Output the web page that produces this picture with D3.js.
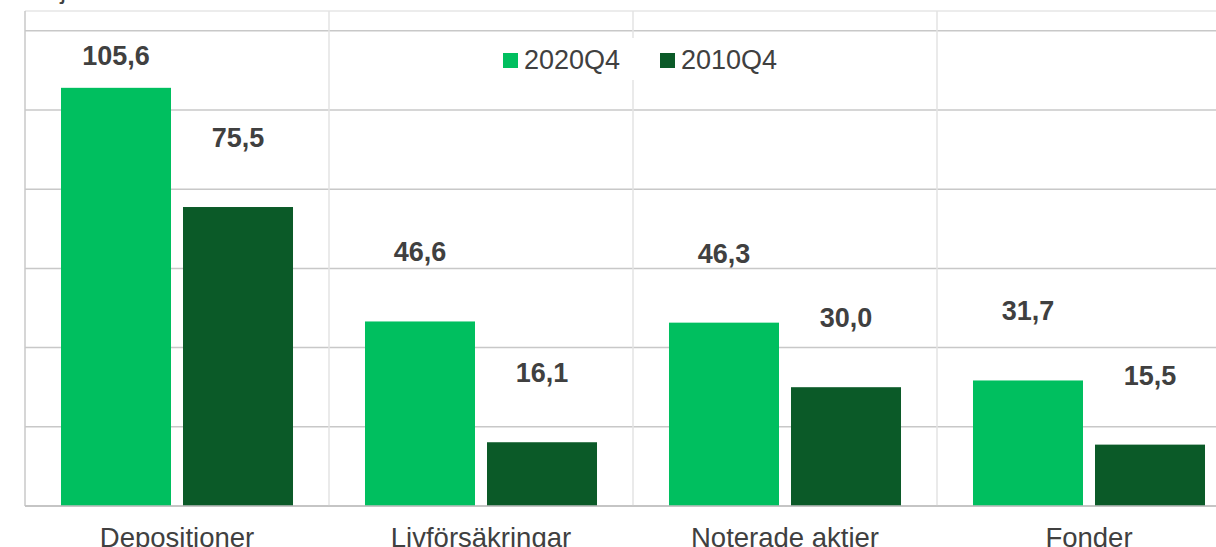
<!DOCTYPE html>
<html>
<head>
<meta charset="utf-8">
<script src="https://cdn.jsdelivr.net/npm/d3@7"></script>
<style>
  body { margin: 0; background: #fff; }
  svg { display: block; font-family: "Liberation Sans", Arial, sans-serif; }
</style>
</head>
<body>
<svg width="1216" height="547"></svg>
<script>
const categories = ["Depositioner", "Livförsäkringar", "Noterade aktier", "Fonder"];
const series = ["2020Q4", "2010Q4"];
const values2020 = [105.6, 46.6, 46.3, 31.7];
const values2010 = [75.5, 16.1, 30.0, 15.5];
const yTicks = [0, 20, 40, 60, 80, 100, 120];
const yTitle = "Miljarder kronor";

const colors = { "2020Q4": "#00bf5f", "2010Q4": "#0b5a28" };

const svg = d3.select("svg");
const margin = { top: 11, left: 25, bottom: 41 };
const height = +svg.attr("height");
const innerHeight = height - margin.top - margin.bottom;
const step = 304;

const data = categories.map((c, i) => ({
  category: c,
  values: [
    { key: "2020Q4", value: values2020[i] },
    { key: "2010Q4", value: values2010[i] },
  ],
}));

const x0 = d3.scaleBand()
  .domain(categories)
  .range([margin.left, margin.left + step * categories.length]);

const x1 = d3.scaleBand()
  .domain(series)
  .range([0, x0.bandwidth()])
  .paddingInner(12 / 122)
  .paddingOuter(0.295);

const y = d3.scaleLinear()
  .domain([0, 125])
  .range([margin.top + innerHeight, margin.top]);

// horizontal gridlines
svg.append("g")
  .selectAll("line")
  .data(yTicks)
  .join("line")
  .attr("x1", margin.left)
  .attr("x2", x0.range()[1])
  .attr("y1", (d) => y(d))
  .attr("y2", (d) => y(d))
  .attr("stroke", "#c8c8c8")
  .attr("stroke-width", 1.5);

// top border
svg.append("line")
  .attr("x1", margin.left).attr("x2", x0.range()[1])
  .attr("y1", y(125)).attr("y2", y(125))
  .attr("stroke", "#d9d9d9");

// vertical separators
svg.append("g")
  .selectAll("line")
  .data(categories.concat(["end"]))
  .join("line")
  .attr("x1", (d, i) => margin.left + i * step)
  .attr("x2", (d, i) => margin.left + i * step)
  .attr("y1", y(125))
  .attr("y2", y(0))
  .attr("stroke", (d, i) => (i === 0 ? "#c8c8c8" : "#e3e3e3"))
  .attr("stroke-width", 1.5);

// bars
const groups = svg.append("g")
  .selectAll("g")
  .data(data)
  .join("g")
  .attr("transform", (d) => `translate(${x0(d.category)},0)`);

groups.selectAll("rect")
  .data((d) => d.values)
  .join("rect")
  .attr("x", (d) => x1(d.key))
  .attr("width", x1.bandwidth())
  .attr("y", (d) => y(d.value))
  .attr("height", (d) => y(0) - y(d.value))
  .attr("fill", (d) => colors[d.key]);

// value labels, 60px above the bar but kept inside the plot
const fmt = (v) => d3.format(".1f")(v).replace(".", ",");
groups.selectAll("text")
  .data((d) => d.values)
  .join("text")
  .attr("x", (d) => x1(d.key) + x1.bandwidth() / 2)
  .attr("y", (d) => Math.max(y(d.value) - 60, y(125) + 54))
  .attr("text-anchor", "middle")
  .attr("font-size", 27)
  .attr("font-weight", "bold")
  .attr("fill", "#404040")
  .text((d) => fmt(d.value));

// baseline
svg.append("line")
  .attr("x1", margin.left).attr("x2", x0.range()[1])
  .attr("y1", y(0)).attr("y2", y(0))
  .attr("stroke", "#bfbfbf")
  .attr("stroke-width", 1.5);

// category axis labels
svg.append("g")
  .selectAll("text")
  .data(categories)
  .join("text")
  .attr("x", (d) => x0(d) + x0.bandwidth() / 2)
  .attr("y", 547)
  .attr("text-anchor", "middle")
  .attr("font-size", 27.5)
  .attr("fill", "#404040")
  .text((d) => d);

// legend
const legend = svg.append("g").attr("transform", "translate(496,38)");
legend.append("rect")
  .attr("width", 290).attr("height", 42).attr("fill", "#fff");
const items = legend.selectAll("g")
  .data(series)
  .join("g")
  .attr("transform", (d, i) => `translate(${7 + i * 157},15)`);
items.append("rect")
  .attr("width", 15).attr("height", 15)
  .attr("fill", (d) => colors[d]);
items.append("text")
  .attr("x", 21).attr("y", 16)
  .attr("font-size", 27)
  .attr("fill", "#404040")
  .text((d) => d);

// axis title, cut by the top edge
svg.append("text")
  .attr("x", 27).attr("y", -1)
  .attr("font-size", 26)
  .attr("fill", "#404040")
  .text(yTitle);
</script>
</body>
</html>
